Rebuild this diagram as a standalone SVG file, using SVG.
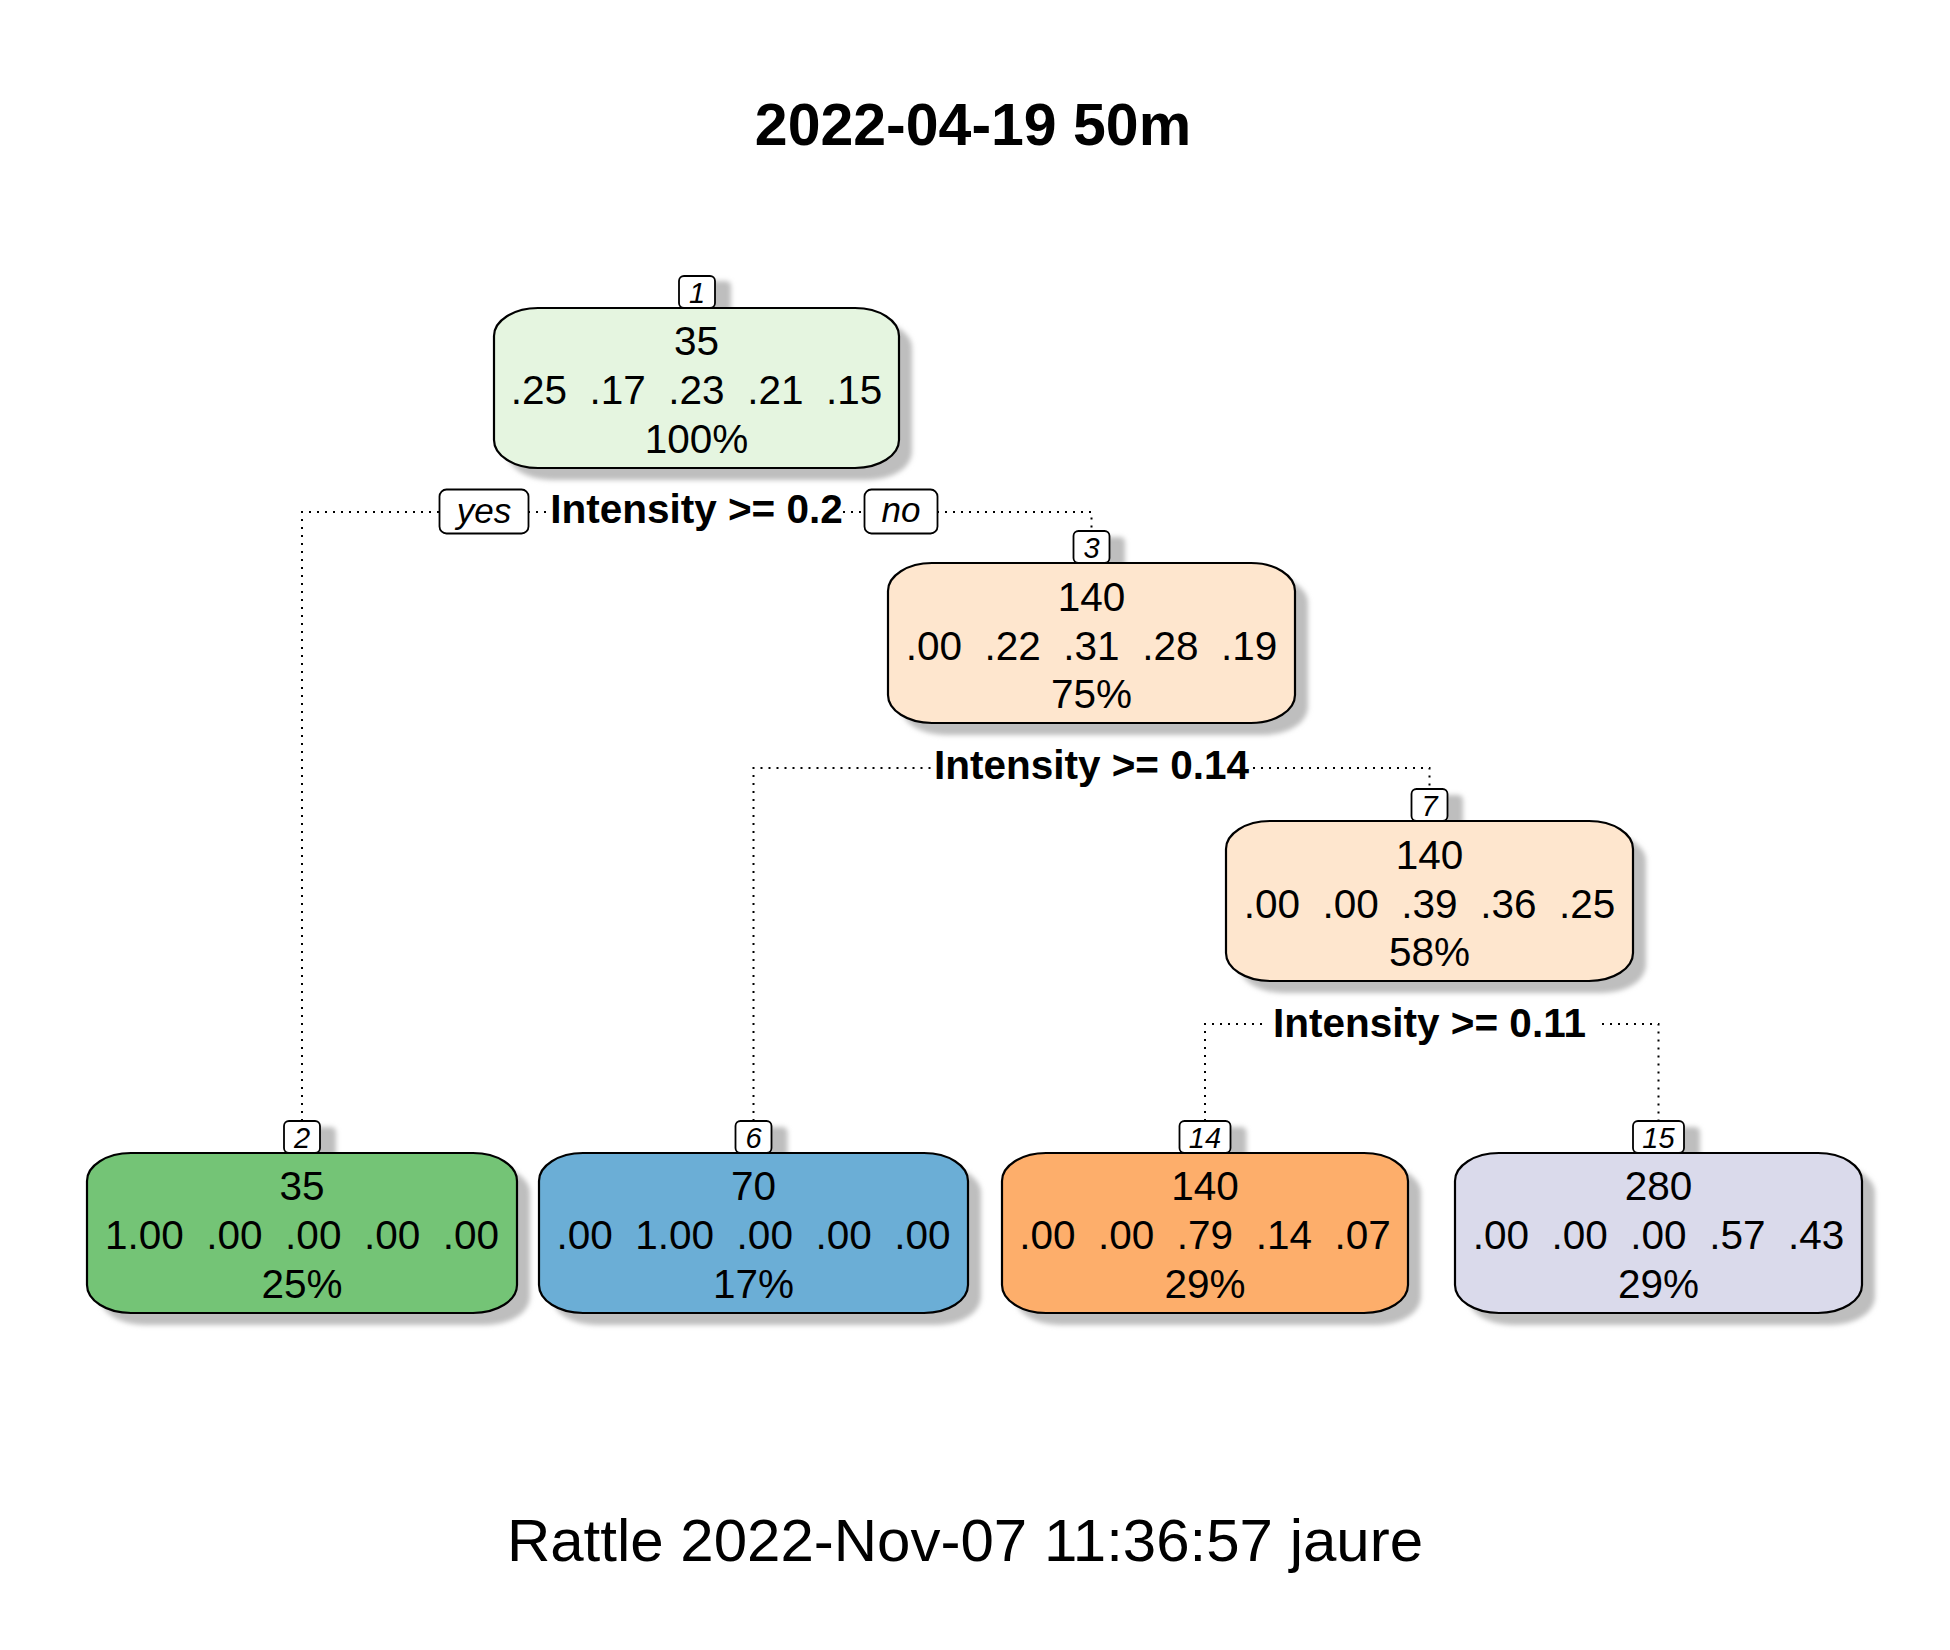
<svg xmlns="http://www.w3.org/2000/svg" width="1950" height="1650" viewBox="0 0 1950 1650">
  <defs>
    <filter id="soft" x="-20%" y="-40%" width="140%" height="180%">
      <feGaussianBlur stdDeviation="2.5"/>
    </filter>
    <style>
      .bg { fill: #ffffff; }
      .title { font-family: "Liberation Sans", Arial, sans-serif; font-weight: bold; font-size: 59px; text-anchor: middle; fill: #000; }
      .footer { font-family: "Liberation Sans", Arial, sans-serif; font-size: 60px; text-anchor: middle; fill: #000; }
      .shadow { fill: #bebebe; filter: url(#soft); }
      .box { stroke: #000; stroke-width: 2.2; }
      .lab { fill: #ffffff; stroke: #000; stroke-width: 1.8; }
      .labtxt { font-family: "Liberation Sans", Arial, sans-serif; font-style: italic; font-size: 29px; text-anchor: middle; fill: #000; }
      .yn { font-family: "Liberation Sans", Arial, sans-serif; font-style: italic; font-size: 35px; text-anchor: middle; fill: #000; }
      .ntxt { font-family: "Liberation Sans", Arial, sans-serif; font-size: 40.5px; text-anchor: middle; fill: #000; white-space: pre; }
      .split { font-family: "Liberation Sans", Arial, sans-serif; font-weight: bold; font-size: 40.5px; text-anchor: middle; fill: #000; }
      .dot { fill: none; stroke: #000; stroke-width: 2; stroke-dasharray: 2 6; }
    </style>
  </defs>

  <rect class="bg" x="0" y="0" width="1950" height="1650"/>

  <text class="title" x="973" y="145">2022-04-19 50m</text>

  <!-- dotted branch connectors -->
  <g id="connectors">
    <!-- node 1 split -->
    <path class="dot" d="M302,1121 V512 H439"/>
    <path class="dot" d="M528,512 H549"/>
    <path class="dot" d="M843,512 H864"/>
    <path class="dot" d="M937,512 H1091.5 V531"/>
    <!-- node 3 split -->
    <path class="dot" d="M753.5,1121 V768 H931"/>
    <path class="dot" d="M1253,768 H1429.5 V789"/>
    <!-- node 7 split -->
    <path class="dot" d="M1205,1121 V1024 H1262"/>
    <path class="dot" d="M1602,1024 H1658.5 V1121"/>
  </g>

  <!-- split labels -->
  <g id="split-labels">
    <rect class="lab" x="439.5" y="489.5" width="89" height="44" rx="7"/>
    <text class="yn" x="484" y="523">yes</text>
    <text class="split" x="696.5" y="523">Intensity &gt;= 0.2</text>
    <rect class="lab" x="864.5" y="489.5" width="73" height="44" rx="7"/>
    <text class="yn" x="901" y="522">no</text>
    <text class="split" x="1091.5" y="779">Intensity &gt;= 0.14</text>
    <text class="split" x="1429.5" y="1037">Intensity &gt;= 0.11</text>
  </g>

  <!-- node 1 -->
  <g id="node1">
    <rect class="shadow" x="695" y="281" width="36" height="32" rx="5"/>
    <rect class="shadow" x="507" y="320" width="405" height="160" rx="44" ry="28"/>
    <rect class="box" fill="#E5F5E0" x="494" y="308" width="405" height="160" rx="44" ry="28"/>
    <rect class="lab" x="679" y="276" width="36" height="32" rx="5"/>
    <text class="labtxt" x="697" y="303">1</text>
    <text class="ntxt" x="696.5" y="355">35</text>
    <text class="ntxt" x="696.5" y="404">.25  .17  .23  .21  .15</text>
    <text class="ntxt" x="696.5" y="453">100%</text>
  </g>

  <!-- node 3 -->
  <g id="node3">
    <rect class="shadow" x="1089" y="537" width="36" height="32" rx="5"/>
    <rect class="shadow" x="901" y="575" width="407" height="160" rx="44" ry="28"/>
    <rect class="box" fill="#FEE6CE" x="888" y="563" width="407" height="160" rx="44" ry="28"/>
    <rect class="lab" x="1073.5" y="531" width="36" height="32" rx="5"/>
    <text class="labtxt" x="1091.5" y="558">3</text>
    <text class="ntxt" x="1091.5" y="611">140</text>
    <text class="ntxt" x="1091.5" y="660">.00  .22  .31  .28  .19</text>
    <text class="ntxt" x="1091.5" y="708">75%</text>
  </g>

  <!-- node 7 -->
  <g id="node7">
    <rect class="shadow" x="1427" y="795" width="36" height="32" rx="5"/>
    <rect class="shadow" x="1239" y="833" width="407" height="160" rx="44" ry="28"/>
    <rect class="box" fill="#FEE6CE" x="1226" y="821" width="407" height="160" rx="44" ry="28"/>
    <rect class="lab" x="1411.5" y="789" width="36" height="32" rx="5"/>
    <text class="labtxt" x="1429.5" y="816">7</text>
    <text class="ntxt" x="1429.5" y="869">140</text>
    <text class="ntxt" x="1429.5" y="918">.00  .00  .39  .36  .25</text>
    <text class="ntxt" x="1429.5" y="966">58%</text>
  </g>

  <!-- leaf 2 -->
  <g id="node2">
    <rect class="shadow" x="300" y="1127" width="36" height="32" rx="5"/>
    <rect class="shadow" x="100" y="1165" width="430" height="160" rx="44" ry="28"/>
    <rect class="box" fill="#74C476" x="87" y="1153" width="430" height="160" rx="44" ry="28"/>
    <rect class="lab" x="284" y="1121" width="36" height="32" rx="5"/>
    <text class="labtxt" x="302" y="1148">2</text>
    <text class="ntxt" x="302" y="1200">35</text>
    <text class="ntxt" x="302" y="1249">1.00  .00  .00  .00  .00</text>
    <text class="ntxt" x="302" y="1298">25%</text>
  </g>

  <!-- leaf 6 -->
  <g id="node6">
    <rect class="shadow" x="751.5" y="1127" width="36" height="32" rx="5"/>
    <rect class="shadow" x="552" y="1165" width="429" height="160" rx="44" ry="28"/>
    <rect class="box" fill="#6BAED6" x="539" y="1153" width="429" height="160" rx="44" ry="28"/>
    <rect class="lab" x="735.5" y="1121" width="36" height="32" rx="5"/>
    <text class="labtxt" x="753.5" y="1148">6</text>
    <text class="ntxt" x="753.5" y="1200">70</text>
    <text class="ntxt" x="753.5" y="1249">.00  1.00  .00  .00  .00</text>
    <text class="ntxt" x="753.5" y="1298">17%</text>
  </g>

  <!-- leaf 14 -->
  <g id="node14">
    <rect class="shadow" x="1195.5" y="1127" width="51" height="32" rx="5"/>
    <rect class="shadow" x="1015" y="1165" width="406" height="160" rx="44" ry="28"/>
    <rect class="box" fill="#FDAE6B" x="1002" y="1153" width="406" height="160" rx="44" ry="28"/>
    <rect class="lab" x="1179.5" y="1121" width="51" height="32" rx="5"/>
    <text class="labtxt" x="1205" y="1148">14</text>
    <text class="ntxt" x="1205" y="1200">140</text>
    <text class="ntxt" x="1205" y="1249">.00  .00  .79  .14  .07</text>
    <text class="ntxt" x="1205" y="1298">29%</text>
  </g>

  <!-- leaf 15 -->
  <g id="node15">
    <rect class="shadow" x="1649" y="1127" width="51" height="32" rx="5"/>
    <rect class="shadow" x="1468" y="1165" width="407" height="160" rx="44" ry="28"/>
    <rect class="box" fill="#DADAEB" x="1455" y="1153" width="407" height="160" rx="44" ry="28"/>
    <rect class="lab" x="1633" y="1121" width="51" height="32" rx="5"/>
    <text class="labtxt" x="1658.5" y="1148">15</text>
    <text class="ntxt" x="1658.5" y="1200">280</text>
    <text class="ntxt" x="1658.5" y="1249">.00  .00  .00  .57  .43</text>
    <text class="ntxt" x="1658.5" y="1298">29%</text>
  </g>

  <text class="footer" x="965" y="1561">Rattle 2022-Nov-07 11:36:57 jaure</text>
</svg>
